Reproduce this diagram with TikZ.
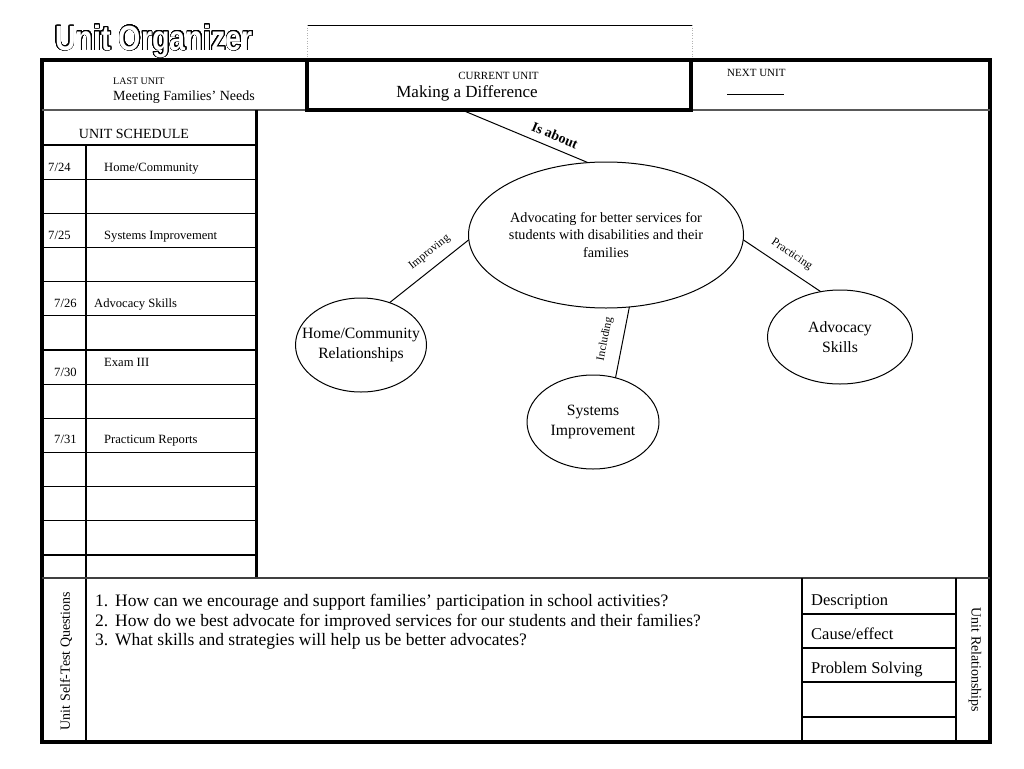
\documentclass[tikz,border=0pt]{standalone}
\usepackage{fontspec}
\setmainfont{Liberation Serif}
\newfontfamily\titlefont{Liberation Sans}
\usepackage{contour}
\usetikzlibrary{shapes.geometric}
\contourlength{0.9pt}
\contournumber{32}
\newcommand\fsz[2]{\fontsize{#1}{#2}\selectfont}
\tikzset{
  grid/.style={line width=1.1pt, black},
  frame/.style={line width=3.5pt, black},
  txt/.style={inner sep=0pt, anchor=base west},
  bubble/.style={draw, ellipse, line width=1pt, inner sep=0pt, outer sep=0pt},
  link/.style={line width=1pt},
  linklab/.style={sloped, above=9pt, inner sep=0pt, font=\fsz{11.5}{13}},
}
\begin{document}
\begin{tikzpicture}[x=1pt,y=-1pt]
\useasboundingbox[fill=white] (0,0) rectangle (1024,768);

% title
\node[txt] (title) at (55,50) {\scalebox{0.82}[1]{\titlefont\bfseries\fsz{35}{35}\contour{black}{\textcolor{white}{Unit Organizer}}}};

% thin box above current unit
\draw[line width=0.8pt] (307,25) -- (692,25);
\draw[dotted, gray!60, line width=0.6pt] (307,25) -- (307,60) (692,25) -- (692,60);

% outer frame and rules
\draw[frame] (42,60) rectangle (990,742);
\draw[line width=1.5pt, black!65] (42,110) -- (990,110);
\draw[line width=3pt] (256,110) -- (256,578);
\foreach \i in {0,...,12} \draw[grid] (42,{145+34.17*\i}) -- (256,{145+34.17*\i});
\draw[grid] (86,145) -- (86,742);
\draw[line width=1.5pt, black!75] (42,578) -- (990,578);
\draw[grid] (802,578) -- (802,742) (956,578) -- (956,742);
\foreach \y in {614,648,682,717} \draw[grid] (802,\y) -- (956,\y);

% header
\node[txt, font=\fsz{10}{12}] (lastlab) at (113,84) {LAST UNIT};
\node[txt, font=\fsz{14}{16}] (lastname) at (113,100) {Meeting Families’ Needs};
\node[draw, line width=4pt, minimum width=384pt, minimum height=50pt, inner sep=0pt, outer sep=0pt] (cur) at (499,85) {};
\node[txt, anchor=base, font=\fsz{11}{12}] (curlab) at (498.5,79) {CURRENT UNIT};
\node[txt, anchor=base, font=\fsz{17}{18}] (curname) at (467,97) {Making a Difference};
\node[txt, font=\fsz{11}{12}] (nextlab) at (727,77) {NEXT UNIT};
\coordinate (nl1) at (727,94);
\coordinate (nl2) at (784,94);
\draw[line width=0.6pt] (nl1) -- (nl2);

% schedule
\node[txt, anchor=base, font=\fsz{14}{16}] (schedhead) at (134,138) {UNIT SCHEDULE};
\begin{scope}[every node/.style={txt, font=\fsz{12.6}{14}}]
\node (d1) at (48,171) {7/24};
\node (s1) at (104,171) {Home/Community};
\node (d2) at (48,239) {7/25};
\node (s2) at (104,239) {Systems Improvement};
\node (d3) at (54,307) {7/26};
\node (s3) at (94,307) {Advocacy Skills};
\node (d4) at (54,376) {7/30};
\node (s4) at (104,366) {Exam III};
\node (d5) at (54,443) {7/31};
\node (s5) at (104,443) {Practicum Reports};
\end{scope}

% concept map
\node[bubble, minimum width=275pt, minimum height=146pt,
  label={[align=center, font=\fsz{14.2}{17.5}]center:Advocating for better services for\\students with disabilities and their\\families}] (cen) at (606,235) {};
\node[bubble, minimum width=131pt, minimum height=94pt,
  label={[align=center, font=\fsz{15.7}{20}]center:Home/Community\\Relationships}] (home) at (361,345) {};
\node[bubble, minimum width=132pt, minimum height=94pt,
  label={[align=center, font=\fsz{15.7}{20}]center:Systems\\Improvement}] (sys) at (593,422) {};
\node[bubble, minimum width=145pt, minimum height=94pt,
  label={[align=center, font=\fsz{15.7}{20}]center:Advocacy\\Skills}] (adv) at (840,337) {};

\draw[link] (cur.214) -- node[sloped, above=7pt, inner sep=0pt, font=\bfseries\fsz{14}{16}, pos=0.7] {Is about} (cen.104);
\draw[link] (cen.182) -- node[linklab, pos=0.38] {Improving} (home.56);
\draw[link] (cen.-2) -- node[linklab, pos=0.52] {Practicing} (adv.113);
\draw[link] (cen.-72) -- node[linklab, above=3pt, pos=0.5] {Including} (sys.63);

% bottom section
\node[rotate=90, inner sep=0pt, font=\fsz{14}{15}] (selftest) at (66,661) {Unit Self-Test Questions};
\node[rotate=-90, inner sep=0pt, font=\fsz{14}{15}] (unitrel) at (975,660) {Unit Relationships};
\begin{scope}[every node/.style={txt, font=\fsz{17.5}{19}}]
\node (q1n) at (95,606) {1.};
\node (q1) at (115,606) {How can we encourage and support families’ participation in school activities?};
\node (q2n) at (95,626) {2.};
\node (q2) at (115,626) {How do we best advocate for improved services for our students and their families?};
\node (q3n) at (95,645) {3.};
\node (q3) at (115,645) {What skills and strategies will help us be better advocates?};
\end{scope}
\begin{scope}[every node/.style={txt, font=\fsz{16.5}{18}}]
\node (r1) at (811,605) {Description};
\node (r2) at (811,639) {Cause/effect};
\node (r3) at (811,673) {Problem Solving};
\end{scope}
\end{tikzpicture}
\end{document}
